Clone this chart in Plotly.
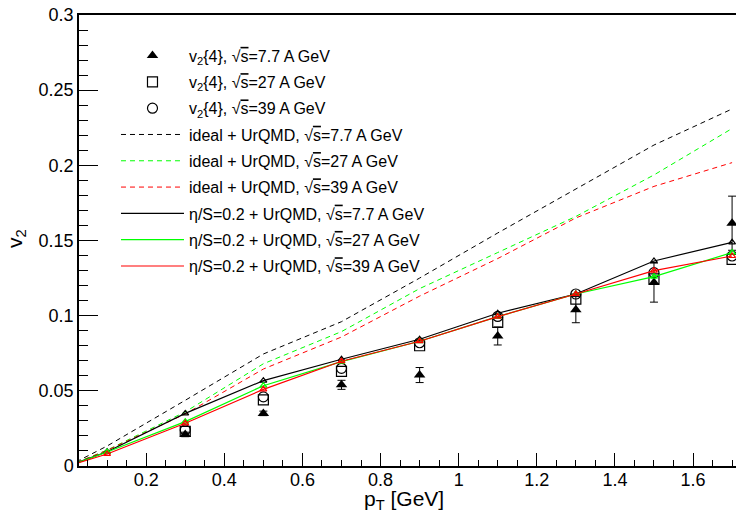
import plotly.graph_objects as go

# ---------------- data ----------------
pt_data = [0.3, 0.5, 0.7, 0.9, 1.1, 1.3, 1.5, 1.7]
v2_77 = [0.021, 0.035, 0.054, 0.0605, 0.0865, 0.104, 0.122, 0.1615]
err_77 = [0.0015, 0.0015, 0.003, 0.005, 0.006, 0.0087, 0.013, 0.018]
v2_27 = [0.023, 0.044, 0.063, 0.080, 0.0955, 0.111, 0.1245, 0.1375]
v2_39 = [0.024, 0.046, 0.065, 0.082, 0.0995, 0.1144, 0.1286, 0.1397]

pt_model = [0.0, 0.1, 0.3, 0.5, 0.7, 0.9, 1.1, 1.3, 1.5, 1.7]
ideal_77 = [0.0, 0.0133, 0.0437, 0.0745, 0.096, 0.125, 0.155, 0.1843, 0.2135, 0.2375]
ideal_27 = [0.0, 0.0106, 0.036, 0.068, 0.0894, 0.118, 0.142, 0.166, 0.1936, 0.2245]
ideal_39 = [0.0, 0.0104, 0.0346, 0.0645, 0.0858, 0.113, 0.138, 0.165, 0.186, 0.2018]
visc_77 = [0.0, 0.0095, 0.035, 0.0568, 0.071, 0.0843, 0.1016, 0.1144, 0.1364, 0.1488]
visc_27 = [0.0, 0.0093, 0.0295, 0.0534, 0.0694, 0.083, 0.0994, 0.1144, 0.126, 0.142]
visc_39 = [0.0, 0.008, 0.0284, 0.051, 0.0697, 0.083, 0.0994, 0.1144, 0.130, 0.1397]

energies = ["7.7", "27", "39"]
colors = ["#000000", "#00ff00", "#ff0000"]

FONT = "Liberation Sans, Arial, Helvetica, sans-serif"
SQS = "√<span style='text-decoration:overline'>s</span>"

fig = go.Figure()

# experimental data
fig.add_trace(go.Scatter(
    x=pt_data, y=v2_77, mode="markers",
    name=f"v<sub>2</sub>{{4}}, {SQS}=7.7 A GeV", legendgroup="d77",
    marker=dict(symbol="triangle-up", size=10, color="black"),
    error_y=dict(type="data", array=err_77, color="black", thickness=1, width=4),
))
fig.add_trace(go.Scatter(
    x=pt_data, y=v2_27, mode="markers",
    name=f"v<sub>2</sub>{{4}}, {SQS}=27 A GeV", legendgroup="d27",
    marker=dict(symbol="square-open", size=10, color="black", line=dict(width=1.2)),
))
fig.add_trace(go.Scatter(
    x=pt_data, y=v2_39, mode="markers",
    name=f"v<sub>2</sub>{{4}}, {SQS}=39 A GeV", legendgroup="d39",
    marker=dict(symbol="circle-open", size=10, color="black", line=dict(width=1.2)),
))

# ideal hydro curves (dashed)
for e, c, ys in zip(energies, colors, [ideal_77, ideal_27, ideal_39]):
    fig.add_trace(go.Scatter(
        x=pt_model, y=ys, mode="lines",
        name=f"ideal + UrQMD, {SQS}={e} A GeV", legendgroup="i" + e,
        line=dict(color=c, width=1, dash="5px,4px"),
    ))

# viscous hydro curves (solid with small open triangles)
for e, c, ys in zip(energies, colors, [visc_77, visc_27, visc_39]):
    fig.add_trace(go.Scatter(
        x=pt_model, y=ys, mode="lines",
        name=f"η/S=0.2 + UrQMD, {SQS}={e} A GeV", legendgroup="v" + e,
        line=dict(color=c, width=1.2),
    ))
    fig.add_trace(go.Scatter(
        x=pt_model, y=ys, mode="markers", showlegend=False, legendgroup="v" + e,
        marker=dict(symbol="triangle-up-open", size=6, color=c, line=dict(width=1.2, color=c)),
    ))

fig.update_layout(
    width=736, height=522,
    margin=dict(l=79, r=0, t=15, b=56, autoexpand=False),
    paper_bgcolor="white", plot_bgcolor="white",
    font=dict(family=FONT, color="black", size=18),
    showlegend=True,
    legend=dict(
        x=0.0563, y=0.9475, xanchor="left", yanchor="top",
        bgcolor="rgba(0,0,0,0)", borderwidth=0,
        font=dict(family=FONT, size=16, color="black"),
        tracegroupgap=2.5, itemwidth=63,
    ),
    annotations=[
        dict(text="v<sub>2</sub>", xref="paper", yref="paper", x=-0.0959, y=0.5055,
             xanchor="center", yanchor="middle", textangle=-90, showarrow=False,
             font=dict(size=21, family=FONT, color="black")),
        dict(text="p<sub>T</sub> [GeV]", xref="paper", yref="paper", x=0.4947, y=-0.0745,
             xanchor="center", yanchor="middle", showarrow=False,
             font=dict(size=21, family=FONT, color="black")),
    ],
)

fig.update_xaxes(
    range=[0.028, 1.71], showgrid=False, zeroline=False, automargin=False,
    showline=True, linecolor="black", linewidth=1.5, mirror=True,
    ticks="inside", ticklen=13, tickwidth=1, tickcolor="black",
    tick0=0, dtick=0.2, ticklabelstandoff=-3,
    minor=dict(ticks="inside", ticklen=6.5, dtick=0.05, tick0=0, tickcolor="black", tickwidth=1, showgrid=False),
    tickfont=dict(size=18, family=FONT),
)
fig.update_yaxes(
    range=[0, 0.3], showgrid=False, zeroline=False, automargin=False,
    showline=True, linecolor="black", linewidth=1.5, mirror=False,
    ticks="inside", ticklen=19, tickwidth=1, tickcolor="black",
    tick0=0, dtick=0.05,
    minor=dict(ticks="inside", ticklen=9, dtick=0.01, tick0=0, tickcolor="black", tickwidth=1, showgrid=False),
    tickfont=dict(size=18, family=FONT),
)

# remove the browser's default 8px body margin so the figure sits at the page origin
fig.write_html("out.html", post_script="document.body.style.margin='0';",
               config={"displayModeBar": False})
